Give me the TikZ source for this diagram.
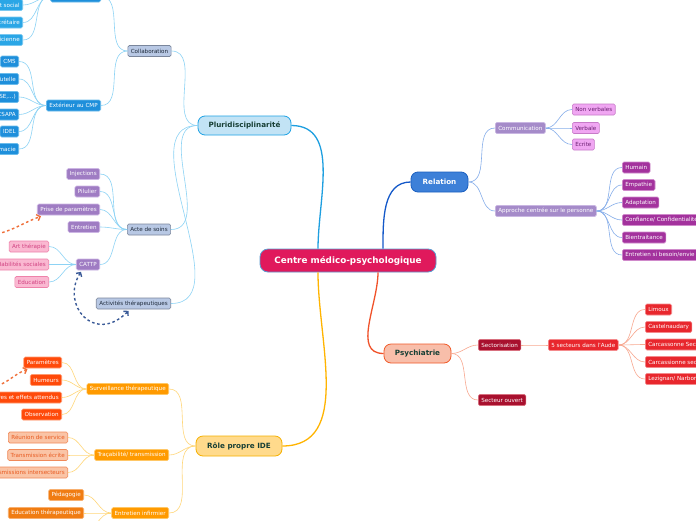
\documentclass[tikz,border=0pt]{standalone}
\usepackage{fontspec}
\setmainfont{DejaVu Sans}
\usetikzlibrary{arrows.meta}
\definecolor{pluM}{HTML}{1E9FE0}
\definecolor{pluS}{HTML}{8DD3F5}
\definecolor{relM}{HTML}{1459C9}
\definecolor{relS}{HTML}{86AEEA}
\definecolor{psyM}{HTML}{F0522A}
\definecolor{psyS}{HTML}{F8A890}
\definecolor{ideM}{HTML}{FFB400}
\definecolor{ideS}{HTML}{FFD77A}
\definecolor{darktxt}{HTML}{173F35}
\definecolor{cmpF}{HTML}{E0195C}\definecolor{cmpD}{HTML}{5A9BD0}
\definecolor{pluF}{HTML}{C2E3F5}\definecolor{pluD}{HTML}{1EA2E4}
\definecolor{relF}{HTML}{3D80D8}\definecolor{relD}{HTML}{1A5FC0}
\definecolor{psyF}{HTML}{F8BEAA}\definecolor{psyD}{HTML}{F05A28}
\definecolor{ideF}{HTML}{FFDA8C}\definecolor{ideD}{HTML}{F5B000}
\definecolor{greyF}{HTML}{B8C8E4}\definecolor{greyD}{HTML}{7A869C}\definecolor{greyT}{HTML}{1E2A3A}
\definecolor{blueAF}{HTML}{1E8FDB}\definecolor{blueAD}{HTML}{6BBCEB}
\definecolor{blueBF}{HTML}{2AA6E6}\definecolor{blueBD}{HTML}{7AC8F0}
\definecolor{purpF}{HTML}{9F7CC3}\definecolor{purpD}{HTML}{CDB6E4}
\definecolor{pinkF}{HTML}{FAB8D1}\definecolor{pinkD}{HTML}{EE82AA}\definecolor{pinkT}{HTML}{D04080}
\definecolor{lpurpF}{HTML}{A58BC9}\definecolor{lpurpD}{HTML}{C9B6E2}
\definecolor{lmagF}{HTML}{F0A6F2}\definecolor{lmagD}{HTML}{C77BC8}\definecolor{lmagT}{HTML}{6A1E70}
\definecolor{magF}{HTML}{A3329D}\definecolor{magD}{HTML}{D08ACB}
\definecolor{dredF}{HTML}{A8102E}\definecolor{dredD}{HTML}{D8707F}
\definecolor{redF}{HTML}{E8272D}\definecolor{redD}{HTML}{F48A8C}
\definecolor{orAF}{HTML}{FF9A00}\definecolor{orAD}{HTML}{FFC766}
\definecolor{orBF}{HTML}{FF4A0A}\definecolor{orBD}{HTML}{FF9A70}
\definecolor{orCF}{HTML}{FAC4A6}\definecolor{orCD}{HTML}{F08A5A}\definecolor{orCT}{HTML}{E85A20}
\definecolor{orDF}{HTML}{F07C12}\definecolor{orDD}{HTML}{F8B070}
\definecolor{dashO}{HTML}{F0703A}\definecolor{dashB}{HTML}{3B5B98}
\tikzset{
  leaf/.style={rounded corners=1.5pt, font=\fontsize{5.6}{6.5}\selectfont, inner xsep=3pt, inner ysep=0pt, minimum height=11pt, line width=0.6pt, text=white},
  mainbox/.style={rounded corners=7pt, font=\fontsize{7.2}{8}\selectfont\bfseries, line width=0.8pt, text=darktxt},
  grey/.style={leaf, fill=greyF, draw=greyD, text=greyT},
  blueA/.style={leaf, fill=blueAF, draw=blueAD},
  blueB/.style={leaf, fill=blueBF, draw=blueBD},
  purp/.style={leaf, fill=purpF, draw=purpD},
  pink/.style={leaf, fill=pinkF, draw=pinkD, text=pinkT},
  lpurp/.style={leaf, fill=lpurpF, draw=lpurpD},
  lmag/.style={leaf, fill=lmagF, draw=lmagD, text=lmagT},
  mag/.style={leaf, fill=magF, draw=magD},
  dred/.style={leaf, fill=dredF, draw=dredD},
  red/.style={leaf, fill=redF, draw=redD},
  orA/.style={leaf, fill=orAF, draw=orAD},
  orB/.style={leaf, fill=orBF, draw=orBD},
  orC/.style={leaf, fill=orCF, draw=orCD, text=orCT},
  orD/.style={leaf, fill=orDF, draw=orDD},
  branch/.style={line width=1.3pt},
  twig/.style={line width=0.6pt},
  dasharrow/.style={line width=1.4pt, dash pattern=on 2.6pt off 2.6pt, -{Straight Barb[length=3pt,width=6.5pt]}},
}
\begin{document}
\begin{tikzpicture}[x=1pt,y=-1pt]
\clip (0,0) rectangle (696,520);
\fill[white] (0,0) rectangle (696,520);

% central
\node[rounded corners=8pt, fill=cmpF, draw=cmpD, line width=0.8pt, text=white, font=\fontsize{8.8}{10}\selectfont\bfseries, minimum width=176pt, minimum height=23pt] (cmp) at (348,260.5) {Centre médico-psychologique};

% main branches
\node[mainbox, fill=pluF, draw=pluD, minimum width=93pt, minimum height=19pt] (plu) at (244.5,125.5) {Pluridisciplinarité};
\node[mainbox, fill=relF, draw=relD, text=white, minimum width=57pt, minimum height=20pt] (rel) at (439.5,182) {Relation};
\node[mainbox, fill=psyF, draw=psyD, minimum width=67pt, minimum height=19pt] (psy) at (417.5,353.5) {Psychiatrie};
\node[mainbox, fill=ideF, draw=ideD, minimum width=86pt, minimum height=20pt] (ide) at (239,446) {Rôle propre IDE};

\draw[branch, pluM] (plu.east) to[out=0,in=90] ([xshift=-30pt]cmp.north);
\draw[branch, relM] ([xshift=35pt]cmp.north) to[out=90,in=180] (rel.west);
\draw[branch, psyM] ([xshift=30pt]cmp.south) to[out=-90,in=180] (psy.west);
\draw[branch, ideM] ([xshift=-30pt]cmp.south) to[out=-90,in=0] (ide.east);

% ---------- Pluridisciplinarite
\node[grey] (collab) at (149.5,51) {Collaboration};
\node[grey] (acte) at (149,229.5) {Acte de soins};
\node[grey] (activ) at (133.5,303.5) {Activités thérapeutiques};
\node[blueA, minimum width=50pt, anchor=east] (topn) at (101,-3.5) {};
\node[blueA, anchor=east] (ext) at (101,105.5) {Extérieur au CMP};
\node[blueB, anchor=east] (as) at (23,5) {Assistant social};
\node[blueB, anchor=east] (sec) at (23,22.5) {Secrétaire};
\node[blueB, anchor=east] (psm) at (23,40) {Psychomotricienne};
\node[blueA, anchor=east] (cms) at (19,61.5) {CMS};
\node[blueA, anchor=east] (tut) at (19,79) {Tutelle};
\node[blueA, anchor=east] (ssoc) at (19,97) {Services sociaux (ASE,...)};
\node[blueA, anchor=east] (csapa) at (19,114.5) {CSAPA};
\node[blueA, anchor=east] (idel) at (19,131.5) {IDEL};
\node[blueA, anchor=east] (phar) at (19,149) {Pharmacie};
\node[purp, anchor=east] (inj) at (100,174) {Injections};
\node[purp, anchor=east] (pil) at (100,191.5) {Pilulier};
\node[purp, anchor=east] (prise) at (100,209.5) {Prise de paramètres};
\node[purp, anchor=east] (entr) at (100,227) {Entretien};
\node[purp, anchor=east] (cattp) at (100,264.5) {CATTP};
\node[pink, anchor=east] (art) at (49,246.5) {Art thérapie};
\node[pink, anchor=east] (hab) at (49,264.5) {Habilités sociales};
\node[pink, anchor=east] (edu) at (49,282) {Education};

\begin{scope}[twig, pluS]
\foreach \c in {collab,acte,activ} \draw (plu.west) to[out=180,in=0] (\c.east);
\foreach \c in {topn,ext} \draw (collab.west) to[out=180,in=0] (\c.east);
\foreach \c in {as,sec,psm} \draw (topn.west) to[out=180,in=0] (\c.east);
\foreach \c in {cms,tut,ssoc,csapa,idel,phar} \draw (ext.west) to[out=180,in=0] (\c.east);
\foreach \c in {inj,pil,prise,entr,cattp} \draw (acte.west) to[out=180,in=0] (\c.east);
\foreach \c in {art,hab,edu} \draw (cattp.west) to[out=180,in=0] (\c.east);
\end{scope}

% ---------- Role propre IDE
\node[orA, anchor=east] (surv) at (169,389) {Surveillance thérapeutique};
\node[orA, anchor=east] (trac) at (169,455) {Traçabilité/ transmission};
\node[orA, anchor=east] (entinf) at (169,513) {Entretien infirmier};
\node[orB, anchor=east] (par) at (62,362.5) {Paramètres};
\node[orB, anchor=east] (hum) at (62,380) {Humeurs};
\node[orB, anchor=east] (eff) at (62,397.5) {Effets secondaires et effets attendus};
\node[orB, anchor=east] (obs) at (62,414.5) {Observation};
\node[orC, anchor=east] (reu) at (68,437.5) {Réunion de service};
\node[orC, anchor=east] (trw) at (68,455) {Transmission écrite};
\node[orC, anchor=east] (tri) at (68,472.5) {Transmissions intersecteurs};
\node[orD, anchor=east] (ped) at (84,495) {Pédagogie};
\node[orD, anchor=east] (edth) at (84,513) {Education thérapeutique};
\coordinate (hidden) at (84,531);

\begin{scope}[twig, ideS]
\foreach \c in {surv,trac,entinf} \draw (ide.west) to[out=180,in=0] (\c.east);
\foreach \c in {par,hum,eff,obs} \draw (surv.west) to[out=180,in=0] (\c.east);
\foreach \c in {reu,trw,tri} \draw (trac.west) to[out=180,in=0] (\c.east);
\foreach \c in {ped,edth} \draw (entinf.west) to[out=180,in=0] (\c.east);
\draw (entinf.west) to[out=180,in=0] (hidden);
\end{scope}

% ---------- Relation
\node[lpurp, anchor=west] (comm) at (495,128) {Communication};
\node[lpurp, anchor=west] (appr) at (495,211) {Approche centrée sur le personne};
\node[lmag, anchor=west] (nv) at (572,109.5) {Non verbales};
\node[lmag, anchor=west] (verb) at (572,128) {Verbale};
\node[lmag, anchor=west] (ecr) at (572,144.5) {Ecrite};
\node[mag, anchor=west] (humain) at (622,167.5) {Humain};
\node[mag, anchor=west] (emp) at (622,185) {Empathie};
\node[mag, anchor=west] (adap) at (622,202.5) {Adaptation};
\node[mag, anchor=west] (conf) at (622,220) {Confiance/ Confidentialité};
\node[mag, anchor=west] (bien) at (622,237.5) {Bientraitance};
\node[mag, anchor=west] (ent2) at (622,255) {Entretien si besoin/envie};

\begin{scope}[twig, relS]
\foreach \c in {comm,appr} \draw (rel.east) to[out=0,in=180] (\c.west);
\foreach \c in {nv,verb,ecr} \draw (comm.east) to[out=0,in=180] (\c.west);
\foreach \c in {humain,emp,adap,conf,bien,ent2} \draw (appr.east) to[out=0,in=180] (\c.west);
\end{scope}

% ---------- Psychiatrie
\node[dred, anchor=west] (sect) at (478,345) {Sectorisation};
\node[dred, anchor=west] (souv) at (478,400) {Secteur ouvert};
\node[red, anchor=west] (five) at (548,345) {5 secteurs dans l'Aude};
\node[red, anchor=west] (lim) at (645,309.5) {Limoux};
\node[red, anchor=west] (cast) at (645,327) {Castelnaudary};
\node[red, anchor=west] (c1) at (645,344.5) {Carcassonne Secteur 1};
\node[red, anchor=west] (c2) at (645,362) {Carcassionne secteur 2};
\node[red, anchor=west] (lez) at (645,379) {Lezignan/ Narbonne};

\begin{scope}[twig, psyS]
\foreach \c in {sect,souv} \draw (psy.east) to[out=0,in=180] (\c.west);
\draw (sect.east) to[out=0,in=180] (five.west);
\foreach \c in {lim,cast,c1,c2,lez} \draw (five.east) to[out=0,in=180] (\c.west);
\end{scope}

% ---------- dashed relation arrows
\coordinate (o1) at (-8,235);
\coordinate (o2) at (-8,387);
\draw[dasharrow, dashO] (o1) to[out=10,in=-160] ([xshift=4pt,yshift=-1pt]prise.south west);
\draw[dasharrow, dashO] (o2) to[out=10,in=-160] ([xshift=4pt,yshift=-1pt]par.south west);
\draw[dasharrow, dashB, {Straight Barb[length=3pt,width=6.5pt]}-{Straight Barb[length=3pt,width=6.5pt]}] ([xshift=5pt,yshift=-1.5pt]cattp.south west) .. controls (60,305) and (95,345) .. ([xshift=-5pt,yshift=-1.5pt]activ.south);
\end{tikzpicture}
\end{document}
